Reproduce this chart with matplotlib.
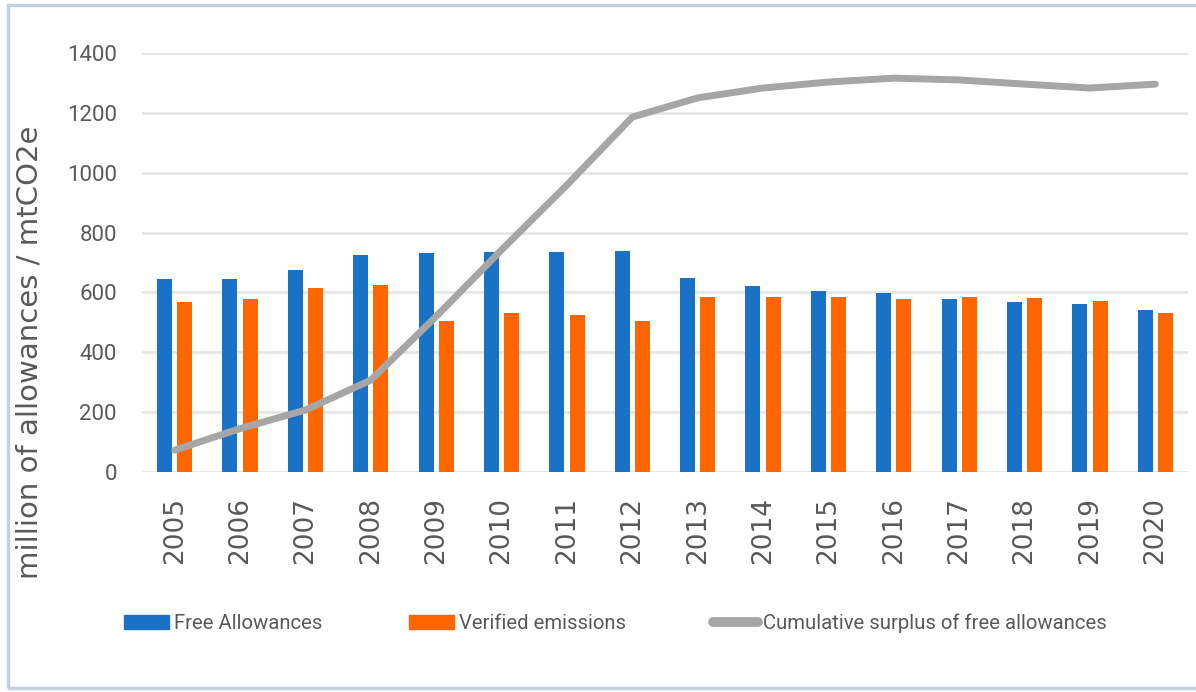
import numpy as np
import matplotlib
matplotlib.use("Agg")
import matplotlib.pyplot as plt
from matplotlib.patches import Patch, Rectangle
from matplotlib.lines import Line2D

years = ['2005', '2006', '2007', '2008', '2009', '2010', '2011', '2012',
         '2013', '2014', '2015', '2016', '2017', '2018', '2019', '2020']
free_allowances = [645, 644, 675, 726, 733, 735, 735, 740,
                   647, 623, 605, 597, 579, 568, 560, 541]
verified_emissions = [569, 577, 616, 625, 506, 532, 525, 503,
                      586, 586, 586, 579, 586, 582, 570, 530]
cumulative_surplus = [73, 145, 207, 307, 520, 742, 959, 1186,
                      1250, 1283, 1303, 1316, 1310, 1296, 1283, 1296]

BLUE = '#1a72c6'
ORANGE = '#ff6600'
GREY = '#a6a6a6'
TXT = '#595959'
narrow = ['Roboto', 'DejaVu Sans']

fig = plt.figure(figsize=(11.96, 6.92), dpi=100)
ax = fig.add_axes([142/1196, 1 - 472/692, (1188 - 142)/1196, (472 - 53)/692])

x = np.arange(len(years))
w = 0.23
ax.bar(x - 0.155, free_allowances, w, color=BLUE, zorder=2)
ax.bar(x + 0.155, verified_emissions, w, color=ORANGE, zorder=2)
ax.plot(x, cumulative_surplus, color=GREY, lw=5, solid_capstyle='round',
        solid_joinstyle='round', zorder=3)

ax.set_xlim(-0.5, len(years) - 0.5)
ax.set_ylim(0, 1400)
ax.set_yticks(range(0, 1401, 200))
ax.yaxis.grid(True, color='#e6e6e6', lw=2)
ax.set_axisbelow(True)
for s in ax.spines.values():
    s.set_visible(False)
ax.tick_params(length=0)
ax.tick_params(axis='y', pad=18, labelcolor=TXT)
ax.tick_params(axis='x', pad=18, labelcolor=TXT)
ax.set_xticks(x)
ax.set_xticklabels(years, rotation=90, fontsize=19, family='DejaVu Sans')
for lab in ax.get_yticklabels():
    lab.set_family(narrow)
    lab.set_fontsize(16)

fig.text(30/1196, 1 - 352/692, 'million of allowances / mtCO2e', rotation=90,
         ha='center', va='center', fontsize=21, color=TXT, family='DejaVu Sans')

handles = [Patch(color=BLUE), Patch(color=ORANGE),
           Line2D([0], [0], color=GREY, lw=7, solid_capstyle='round')]
labels = ['Free Allowances', 'Verified emissions',
          'Cumulative surplus of free allowances']
fig.legend(handles, labels, loc='center left', ncol=3,
           bbox_to_anchor=(124/1196, 1 - 623/692), frameon=False,
           borderpad=0, borderaxespad=0, handlelength=2.2,
           handletextpad=0.25, columnspacing=4.3,
           prop={'family': narrow, 'size': 14.6}, labelcolor=TXT)

# frame: open on the right side, like the source
fig.add_artist(Rectangle((8/1196, 4/692), 1.0, 683/692,
                         transform=fig.transFigure, fill=False,
                         edgecolor='#c3d1de', lw=2.5))

fig.savefig('out.png', dpi=100)
